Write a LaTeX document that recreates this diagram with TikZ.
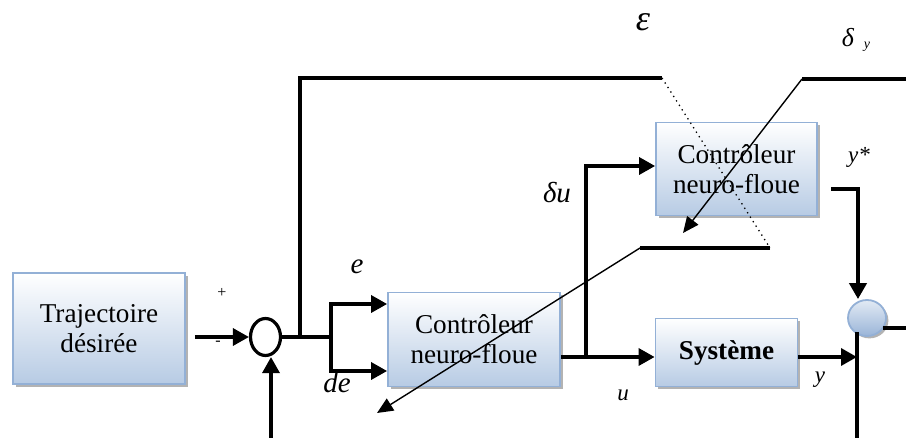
\documentclass[tikz,border=0pt]{standalone}
\usepackage{fontspec}
\setmainfont{Liberation Serif}
\usepackage{xcolor}
\usepackage{tikz}
\usetikzlibrary{arrows.meta,positioning,calc,shapes.geometric,shadows}
\definecolor{boxline}{HTML}{93B0D6}
\definecolor{boxtop}{HTML}{FFFFFF}
\definecolor{boxbot}{HTML}{B7CBE4}
\definecolor{balltop}{HTML}{E2EAF4}
\definecolor{ballbot}{HTML}{9AB5D8}
\tikzset{
  blk/.style  ={draw=boxline, line width=0.9pt, top color=boxtop, bottom color=boxbot,
                align=center, inner sep=2pt, font=\fontsize{13.6}{15}\selectfont,
                drop shadow={shadow xshift=1.4pt, shadow yshift=-1.4pt, fill=black!50, opacity=0.6}},
  sumn/.style ={ellipse, draw=black, line width=1.6pt, fill=white, inner sep=0pt,
                minimum width=15pt, minimum height=18.5pt},
  balln/.style={ellipse, draw=boxline, line width=0.9pt, top color=balltop, bottom color=ballbot,
                inner sep=0pt, minimum width=19pt, minimum height=18pt,
                drop shadow={shadow xshift=1.2pt, shadow yshift=-1.2pt, fill=black!50, opacity=0.6}},
  ln/.style   ={draw=black, line width=1.7pt},
  fl/.style   ={ln, -{Triangle[length=8pt,width=8.5pt]}},
  tn/.style   ={draw=black, line width=0.7pt, -{Triangle[length=8pt,width=7pt]}},
  dt/.style   ={draw=black, line width=0.65pt, dotted},
  lb/.style   ={font=\fontsize{14.5}{14}\selectfont\itshape, inner sep=0pt},
  sl/.style   ={font=\fontsize{11.5}{12}\selectfont\itshape, inner sep=0pt},
  sg/.style   ={font=\fontsize{8}{8}\selectfont, inner sep=0pt},
}

\begin{document}
\begin{tikzpicture}[x=0.5pt,y=-0.5pt]
  % pixel grid of the scanned figure, y grows downwards
  \useasboundingbox (0,0) rectangle (906,438);

  % ---------------- blocks -------------------------------------------------
  \node[blk, minimum width=86pt, minimum height=55.5pt] (traj)  at (99,328.5)  {Trajectoire\\désirée};
  \node[sumn]                                           (som)   at (265.5,337) {};
  \node[blk, minimum width=86pt, minimum height=47pt]   (ctrl)  at (474,339.5) {Contrôleur\\neuro-floue};
  \node[blk, minimum width=80.5pt, minimum height=46.5pt] (ctrlb) at (736.5,169) {Contrôleur\\neuro-floue};
  \node[blk, minimum width=71pt, minimum height=34pt]   (sys)   at (726.5,352.5) {\textbf{Système}};
  \node[balln]                                          (bal)   at (867,318)   {};

  % ---------------- free ends and corners ----------------------------------
  \coordinate (fbin)  at (271,438);
  \coordinate (jn)    at (331,337);
  \coordinate (ein)   at (331,304);
  \coordinate (dein)  at (331,371);
  \coordinate (jfb)   at (300,337);
  \coordinate (etop)  at (300,78);
  \coordinate (eend)  at (662,78);
  \coordinate (edot)  at (770,248);
  \coordinate (ebase) at (640,248);
  \coordinate (etip)  at (377,413);
  \coordinate (ju)    at (586,357);
  \coordinate (dutop) at (586,166);
  \coordinate (dyend) at (906,79);
  \coordinate (dybas) at (802,79);
  \coordinate (dytip) at (683,233);
  \coordinate (ybar)  at (857,357);
  \coordinate (yhi)   at (857,332);
  \coordinate (ylo)   at (857,438);
  \coordinate (yst)   at (831,189);
  \coordinate (ysc)   at (858,189);
  \coordinate (out)   at (906,328);

  % ---------------- main loop ----------------------------------------------
  \draw[fl, shorten <=4.5pt] (traj.east |- som.west) -- (som.west);
  \draw[fl] (fbin) -- (fbin |- som.south);
  \draw[ln] (som.east) -- (jn);
  \draw[fl] (jn) -- (ein) -- (ein -| ctrl.west);
  \draw[fl] (jn) -- (dein) -- (dein -| ctrl.west);
  \draw[fl] (ju -| ctrl.east) -- (ju -| sys.west);
  \draw[fl] (ju) -- (dutop) -- (dutop -| ctrlb.west);
  \draw[fl] (ybar -| sys.east) -- (ybar);
  \draw[ln] (yhi) -- (ylo);
  \draw[fl, line width=2.1pt] (yst) -- (ysc) -- (ysc |- bal.north);
  \draw[ln, shorten <=-1.75pt] (out -| bal.east) -- (out);

  % ---------------- adaptation signals -------------------------------------
  \draw[ln] (jfb) -- (etop) -- (eend);
  \draw[dt] (eend) -- (edot);
  \draw[ln] (edot) -- (ebase);
  \draw[tn] (ebase) -- (etip);
  \draw[ln, line width=2.2pt] (dyend) -- (dybas);
  \draw[tn] (dybas) -- (dytip);

  % ---------------- labels -------------------------------------------------
  \node[sg] (lplus)  at (222,293) {+};
  \node[sg] (lminus) at (218,343) {-};
  \node[lb] (le)     at (357,267) {e};
  \node[lb] (lde)    at (337,383) {de};
  \node[lb] (ldu)    at (557,193) {δu};
  \node[sl] (lu)     at (623,395) {u};
  \node[sl] (ly)     at (820,380) {y};
  \node[sl] (lys)    at (859,157) {y*};
  \node[font=\fontsize{18}{18}\selectfont\itshape, inner sep=0pt] (leps) at (643,22) {ε};
  \node[font=\fontsize{13}{13}\selectfont\itshape, inner sep=0pt] (ldy)  at (848,38) {δ};
  \node[font=\fontsize{7}{7}\selectfont\itshape, inner sep=0pt]    (ldys) at (867,47) {y};
\end{tikzpicture}
\end{document}
